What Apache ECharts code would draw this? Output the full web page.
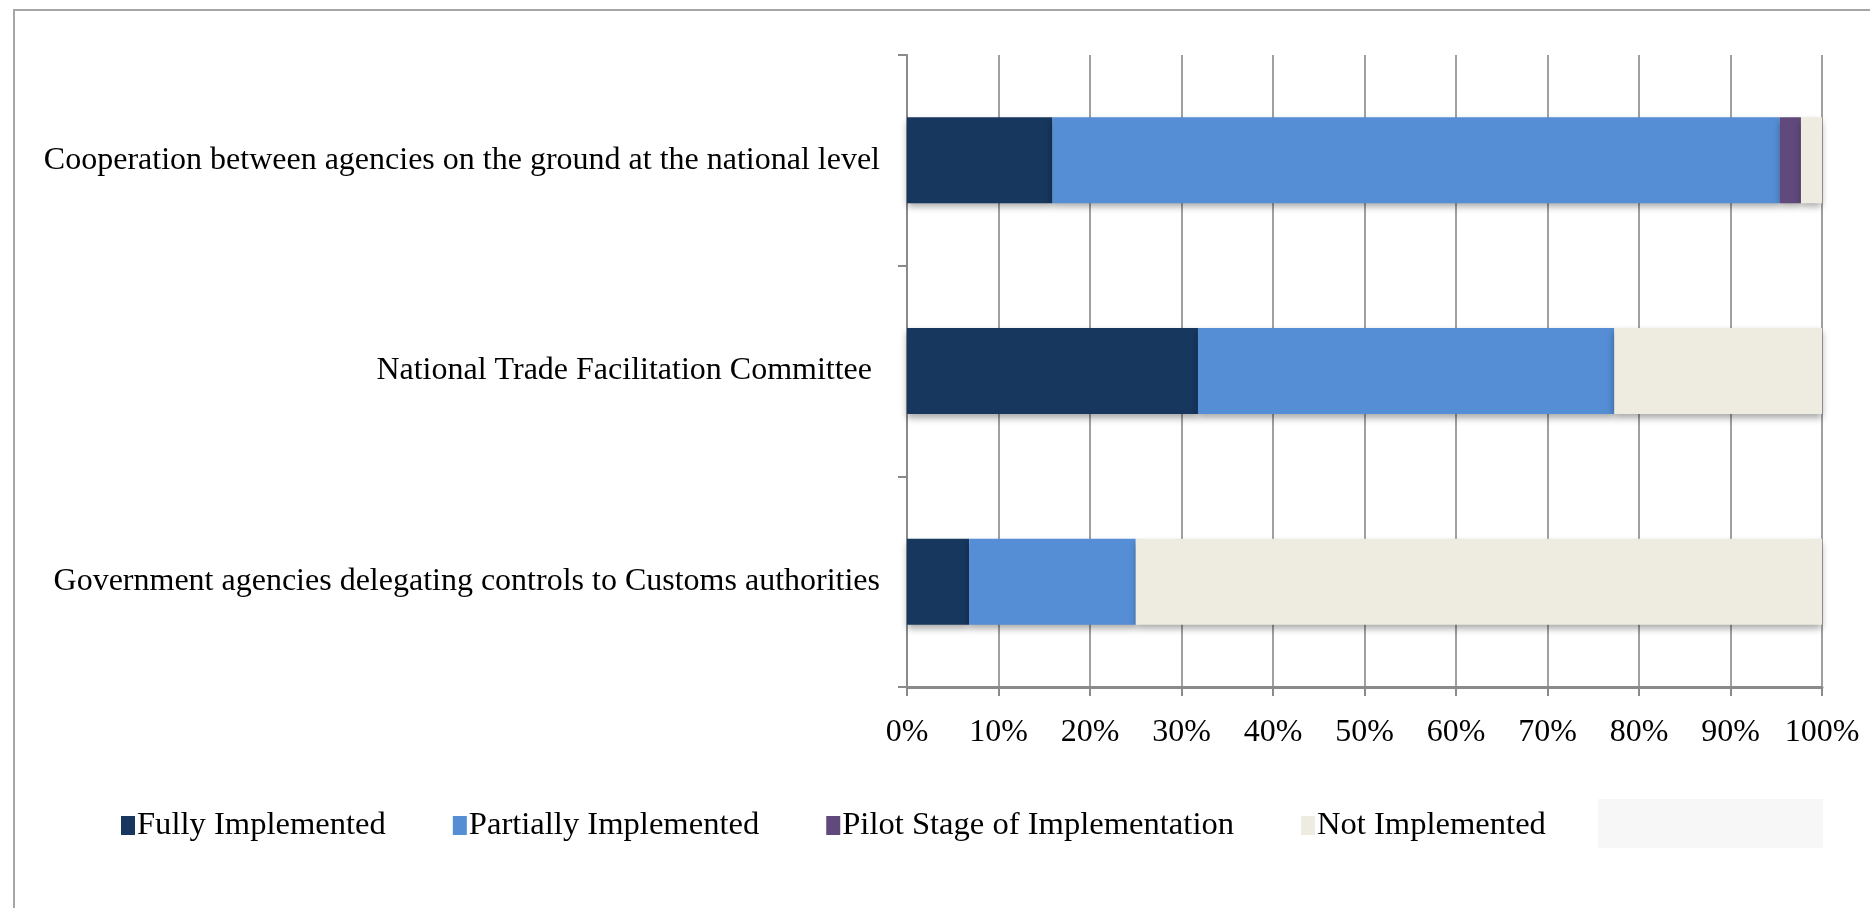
<!DOCTYPE html>
<html>
<head>
<meta charset="utf-8">
<title>Implementation status</title>
<script src="https://cdn.jsdelivr.net/npm/echarts@6/dist/echarts.min.js"></script>
<style>
    html, body { margin: 0; padding: 0; background: #fff; }
    #chart { width: 1870px; height: 908px; }
</style>
</head>
<body>
<div id="chart"></div>
<script>
var categories = [
    'Cooperation between agencies on the ground at the national level',
    'National Trade Facilitation Committee ',
    'Government agencies delegating controls to Customs authorities'
];
var fullyImplemented = [15.9, 31.8, 6.8];
var partiallyImplemented = [79.5, 45.5, 18.2];
var pilotStage = [2.3, 0, 0];
var notImplemented = [2.3, 22.7, 75.0];
var xTicks = [0, 10, 20, 30, 40, 50, 60, 70, 80, 90, 100];

var chart = echarts.init(document.getElementById('chart'));

var font = 'Liberation Serif, Times New Roman, serif';
var shadow = {
    shadowColor: 'rgba(0,0,0,0.35)',
    shadowBlur: 7,
    shadowOffsetY: 4
};

function barSeries(name, data, color) {
    return {
        name: name,
        type: 'bar',
        stack: 'total',
        barWidth: 86,
        data: data,
        itemStyle: Object.assign({color: color}, shadow),
        emphasis: {disabled: true}
    };
}

var option = {
    animation: false,
    backgroundColor: '#fff',
    textStyle: {fontFamily: font, color: '#000'},
    graphic: [{
        type: 'rect',
        shape: {x: 14, y: 10, width: 2000, height: 2000},
        style: {fill: 'none', stroke: '#a6a6a6', lineWidth: 2}
    }, {
        type: 'rect',
        shape: {x: 1598, y: 799, width: 225, height: 49},
        style: {fill: '#f7f7f7'}
    }],
    grid: {left: 907, right: 48, top: 55, bottom: 221},
    legend: {
        left: 116,
        top: 804,
        itemWidth: 14,
        itemHeight: 19,
        itemGap: 67,
        icon: 'rect',
        textStyle: {fontFamily: font, fontSize: 32.6, color: '#000', padding: [0, 0, 0, -3]},
        data: ['Fully Implemented', 'Partially Implemented', 'Pilot Stage of Implementation', 'Not Implemented']
    },
    xAxis: {
        type: 'value',
        min: xTicks[0],
        max: xTicks[xTicks.length - 1],
        interval: 10,
        axisLine: {show: true, lineStyle: {color: '#8a8a8a', width: 3}},
        axisTick: {show: true, length: 9, lineStyle: {color: '#8a8a8a', width: 2}},
        axisLabel: {
            margin: 30,
            fontFamily: font,
            fontSize: 32,
            color: '#000',
            formatter: '{value}%'
        },
        splitLine: {show: true, lineStyle: {color: '#a0a0a0', width: 2}}
    },
    yAxis: {
        type: 'category',
        inverse: true,
        data: categories,
        axisLine: {show: true, lineStyle: {color: '#8a8a8a', width: 2}},
        axisTick: {show: true, length: 9, lineStyle: {color: '#8a8a8a', width: 2}},
        axisLabel: {margin: 27, fontFamily: font, fontSize: 32, color: '#000'}
    },
    series: [
        barSeries('Fully Implemented', fullyImplemented, '#17375e'),
        barSeries('Partially Implemented', partiallyImplemented, '#558ed5'),
        barSeries('Pilot Stage of Implementation', pilotStage, '#604a7b'),
        barSeries('Not Implemented', notImplemented, '#eeece1')
    ]
};

chart.setOption(option);
</script>
</body>
</html>
